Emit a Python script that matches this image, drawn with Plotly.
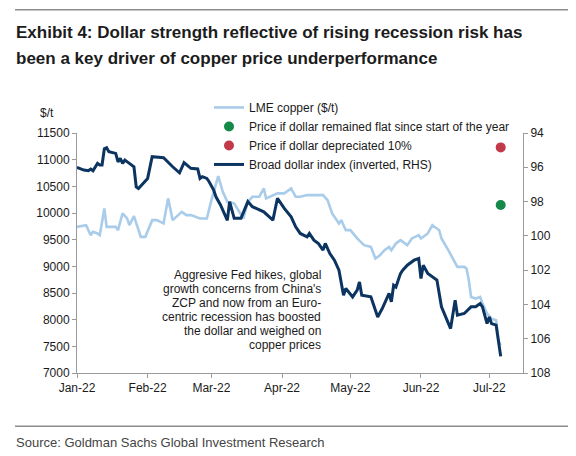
import plotly.graph_objects as go

# ---------------- data ----------------
dollar_dates = [
    "2022-01-01", "2022-01-04", "2022-01-06", "2022-01-07", "2022-01-08", "2022-01-10",
    "2022-01-11", "2022-01-12", "2022-01-13", "2022-01-14", "2022-01-15", "2022-01-18",
    "2022-01-19", "2022-01-20", "2022-01-21", "2022-01-22", "2022-01-24", "2022-01-26",
    "2022-01-27", "2022-01-28", "2022-02-01", "2022-02-03", "2022-02-08", "2022-02-09",
    "2022-02-12", "2022-02-15", "2022-02-17", "2022-02-20", "2022-02-21", "2022-02-23",
    "2022-02-24", "2022-02-25", "2022-02-27", "2022-02-28", "2022-03-02", "2022-03-03",
    "2022-03-05", "2022-03-08", "2022-03-09", "2022-03-11", "2022-03-14", "2022-03-17",
    "2022-03-19", "2022-03-24", "2022-03-28", "2022-03-30", "2022-04-02", "2022-04-05",
    "2022-04-07", "2022-04-09", "2022-04-12", "2022-04-13", "2022-04-15", "2022-04-17",
    "2022-04-19", "2022-04-20", "2022-04-22", "2022-04-24", "2022-04-26", "2022-04-28",
    "2022-04-29", "2022-05-02", "2022-05-04", "2022-05-05", "2022-05-06", "2022-05-10",
    "2022-05-11", "2022-05-13", "2022-05-15", "2022-05-17", "2022-05-18", "2022-05-19",
    "2022-05-20", "2022-05-21", "2022-05-23", "2022-05-24", "2022-05-26", "2022-05-29",
    "2022-05-31", "2022-06-01", "2022-06-02", "2022-06-04", "2022-06-06", "2022-06-08",
    "2022-06-10", "2022-06-12", "2022-06-14", "2022-06-16", "2022-06-17", "2022-06-20",
    "2022-06-22", "2022-06-23", "2022-06-25", "2022-06-27", "2022-06-28", "2022-06-30",
    "2022-07-01", "2022-07-02", "2022-07-04", "2022-07-05", "2022-07-06",
]
dollar_index = [
    96.0, 96.16, 96.2, 96.1, 96.2, 95.77,
    95.87, 95.87, 94.92, 94.86, 95.09, 95.19,
    95.68, 95.48, 95.77, 95.58, 95.77, 95.97,
    97.14, 97.24, 96.65, 95.38, 95.44, 95.58,
    95.97, 96.32, 95.73, 96.06, 96.06, 96.1,
    96.65, 96.55, 96.65, 96.84, 97.33, 97.72,
    98.2, 99.1, 98.0, 98.98, 98.98, 98.0,
    98.3, 98.6, 99.08, 97.81, 98.4, 98.89,
    99.47, 99.86, 100.06, 99.86, 100.25, 100.45,
    100.83, 100.44, 101.03, 101.42, 102.0, 103.46,
    103.07, 103.56, 103.17, 102.69, 103.46, 103.56,
    103.95, 104.73, 104.24, 103.66, 103.36, 103.85,
    102.88, 102.98, 102.2, 102.0, 101.71, 101.42,
    101.32, 102.49, 101.71, 102.19, 102.39, 102.58,
    104.14, 104.73, 105.41, 103.75, 104.63, 104.53,
    104.24, 104.14, 104.14, 103.95, 104.14, 105.12,
    104.73, 105.12, 105.21, 106.28, 107.03,
]

copper_dates = [
    "2022-01-01", "2022-01-05", "2022-01-07", "2022-01-08", "2022-01-10", "2022-01-11",
    "2022-01-13", "2022-01-14", "2022-01-18", "2022-01-19", "2022-01-21", "2022-01-23",
    "2022-01-24", "2022-01-26", "2022-01-29", "2022-01-31", "2022-02-03", "2022-02-05",
    "2022-02-08", "2022-02-10", "2022-02-12", "2022-02-16", "2022-02-18", "2022-02-20",
    "2022-02-24", "2022-02-27", "2022-03-01", "2022-03-04", "2022-03-06", "2022-03-08",
    "2022-03-11", "2022-03-15", "2022-03-17", "2022-03-19", "2022-03-22", "2022-03-24",
    "2022-03-25", "2022-03-30", "2022-04-02", "2022-04-05", "2022-04-07", "2022-04-09",
    "2022-04-12", "2022-04-15", "2022-04-19", "2022-04-21", "2022-04-23", "2022-04-26",
    "2022-04-27", "2022-04-29", "2022-05-01", "2022-05-04", "2022-05-07", "2022-05-10",
    "2022-05-12", "2022-05-14", "2022-05-16", "2022-05-18", "2022-05-19", "2022-05-21",
    "2022-05-23", "2022-05-26", "2022-05-28", "2022-05-31", "2022-06-01", "2022-06-04",
    "2022-06-06", "2022-06-09", "2022-06-10", "2022-06-13", "2022-06-15", "2022-06-17",
    "2022-06-20", "2022-06-21", "2022-06-22", "2022-06-23", "2022-06-25", "2022-06-27",
    "2022-06-28", "2022-06-30", "2022-07-02", "2022-07-04", "2022-07-05", "2022-07-06",
]
copper_price = [
    9740, 9772, 9584, 9647, 9616, 9584,
    10086, 9740, 9740, 9678, 9992, 9898,
    9772, 9941, 9553, 9553, 9866, 9866,
    9804, 10274, 9866, 10022, 9960, 9960,
    9898, 9898, 10242, 10692, 10398, 10210,
    10180, 9898, 10210, 10304, 10304, 10461,
    10273, 10368, 10368, 10461, 10304, 10304,
    10336, 10336, 10336, 10242, 9992, 9804,
    9866, 9678, 9678, 9523, 9397, 9365,
    9147, 9209, 9303, 9365, 9303, 9428,
    9491, 9397, 9523, 9584, 9523, 9616,
    9772, 9678, 9523, 9303, 9147, 8989,
    8989, 8959, 8739, 8426, 8396, 8426,
    8302, 8114, 8020, 7988, 7613, 7519,
]

scenario_date = ["2022-07-06"]
flat_dollar_price = [10150]
depreciated_price = [11230]

title_lines = [
    "Exhibit 4: Dollar strength reflective of rising recession risk has",
    "been a key driver of copper price underperformance",
]
note_lines = [
    "Aggresive Fed hikes, global",
    "growth concerns from China's",
    "ZCP and now from an Euro-",
    "centric recession has boosted",
    "the dollar and weighed on",
    "copper prices",
]
source_text = "Source: Goldman Sachs Global Investment Research"

# ---------------- figure ----------------
W, H = 576, 456
L, R, T, B = 77, 523, 133, 372.7


def px(x):
    return (x - L) / (R - L)


def py(y):
    return (B - y) / (B - T)


fig = go.Figure()
fig.add_trace(go.Scatter(
    x=copper_dates, y=copper_price, mode="lines", name="LME copper ($/t)",
    line=dict(color="#a8cce9", width=2.6), yaxis="y",
))
fig.add_trace(go.Scatter(
    x=scenario_date, y=flat_dollar_price, mode="markers",
    name="Price if dollar remained flat since start of the year",
    marker=dict(color="#14894a", size=10), yaxis="y",
))
fig.add_trace(go.Scatter(
    x=scenario_date, y=depreciated_price, mode="markers",
    name="Price if dollar depreciated 10%",
    marker=dict(color="#c23a4a", size=10), yaxis="y",
))
fig.add_trace(go.Scatter(
    x=dollar_dates, y=dollar_index, mode="lines",
    name="Broad dollar index (inverted, RHS)",
    line=dict(color="#0c3461", width=3), yaxis="y2",
))

SANS = "Liberation Sans, Arial, sans-serif"
axis_font = dict(family=SANS, size=12, color="#1a1a1a")

# horizontal rules above the title and above the source line
rules = [
    dict(type="line", xref="paper", yref="paper", x0=px(15), x1=px(568),
         y0=py(yl), y1=py(yl), line=dict(color="#8c8c8c", width=1.5))
    for yl in (10, 426)
]

fig.update_layout(
    width=W, height=H,
    margin=dict(l=L, r=W - R, t=T, b=H - B, pad=0),
    paper_bgcolor="white", plot_bgcolor="white",
    font=axis_font,
    showlegend=True,
    shapes=rules,
    legend=dict(
        x=px(209), y=py(93), xanchor="left", yanchor="top",
        bgcolor="rgba(0,0,0,0)", font=axis_font, itemwidth=30,
        tracegroupgap=0,
    ),
    xaxis=dict(
        type="date", range=["2022-01-01", "2022-07-15 19:00"],
        tick0="2022-01-01", dtick="M1", tickformat="%b-%y",
        showgrid=False, zeroline=False, showline=True, linecolor="#9a9a9a", linewidth=1,
        ticks="outside", ticklen=4, tickcolor="#9a9a9a", tickfont=axis_font,
    ),
    yaxis=dict(
        range=[7000, 11500], dtick=500, tickformat="d", showgrid=False, zeroline=False,
        showline=True, linecolor="#9a9a9a", linewidth=1,
        ticks="outside", ticklen=4, tickcolor="#9a9a9a", tickfont=axis_font,
    ),
    yaxis2=dict(
        range=[108, 94], dtick=2, tickformat="d", overlaying="y", side="right", showgrid=False,
        zeroline=False, showline=True, linecolor="#9a9a9a", linewidth=1,
        ticks="outside", ticklen=4, tickcolor="#9a9a9a", tickfont=axis_font,
    ),
)

title_font = dict(family=SANS, size=17, color="#1c1c1c")
for t, yc in zip(title_lines, [33, 58.5]):
    fig.add_annotation(text="<b>" + t + "</b>", xref="paper", yref="paper",
                       x=px(14), y=py(yc), xanchor="left", yanchor="middle",
                       showarrow=False, font=title_font)

for i, t in enumerate(note_lines):
    fig.add_annotation(text=t, xref="paper", yref="paper",
                       x=px(323), y=py(275 + i * 13.86), xanchor="right", yanchor="middle",
                       showarrow=False, font=axis_font)

fig.add_annotation(text="$/t", xref="paper", yref="paper", x=px(47), y=py(113),
                   xanchor="center", yanchor="middle", showarrow=False, font=axis_font)

fig.add_annotation(text=source_text, xref="paper", yref="paper", x=px(14), y=py(442),
                   xanchor="left", yanchor="middle", showarrow=False,
                   font=dict(family=SANS, size=13, color="#444444"))

fig.write_html(
    "out.html",
    config={"displayModeBar": False},
    post_script="document.body.style.margin='0';document.body.style.overflow='hidden';",
)
